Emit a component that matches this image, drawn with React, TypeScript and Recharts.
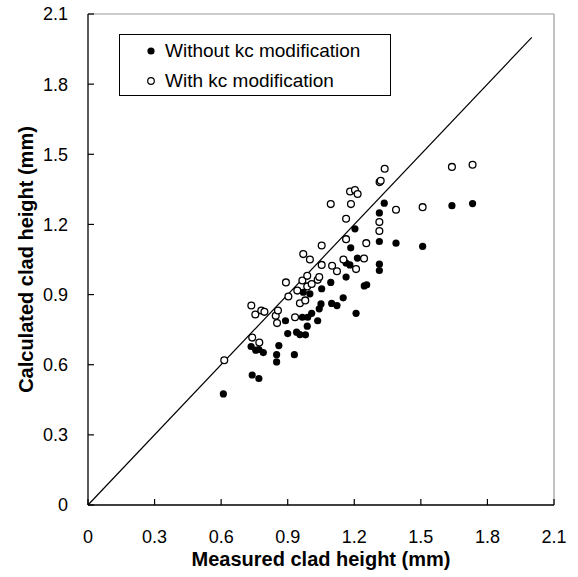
import React from "react";
import {
  ScatterChart,
  Scatter,
  XAxis,
  YAxis,
  ReferenceLine,
  Legend
} from "recharts";

document.body.style.margin = "0";

const FONT = "'Liberation Sans', Arial, sans-serif";

const axisTicks = [0, 0.3, 0.6, 0.9, 1.2, 1.5, 1.8, 2.1];

// measured (x) and calculated (y) clad heights, mm
const withoutMeasured = [
  0.61, 0.74, 0.77, 0.85, 0.85, 0.93, 0.86, 0.735, 0.756, 0.77, 0.79, 0.89,
  0.9, 0.94, 0.955, 0.98, 0.966, 0.99, 0.988, 1.008, 1.035, 1.042, 1.05, 1.098,
  1.122, 1.15, 1.208, 1.053, 1.094, 1.163, 0.97, 1.0, 1.245, 1.256, 1.163,
  1.18, 1.313, 1.313, 1.214, 1.184, 1.313, 1.388, 1.508, 1.203, 1.313, 1.335,
  1.64, 1.733
];
const withoutCalculated = [
  0.475, 0.556, 0.541, 0.612, 0.643, 0.643, 0.682, 0.678, 0.662, 0.665, 0.652,
  0.788, 0.733, 0.739, 0.729, 0.728, 0.803, 0.803, 0.765, 0.82, 0.788, 0.839,
  0.86, 0.862, 0.853, 0.886, 0.82, 0.925, 0.952, 0.975, 0.91, 0.903, 0.937,
  0.942, 1.035, 1.027, 1.03, 1.003, 1.056, 1.1, 1.127, 1.12, 1.106, 1.181,
  1.249, 1.291, 1.28, 1.289
];

const withMeasured = [
  0.614, 0.736, 0.754, 0.781, 0.795, 0.74, 0.772, 0.846, 0.856, 0.852, 0.892,
  0.903, 0.933, 0.943, 0.955, 0.979, 0.966, 0.988, 0.988, 1.008, 1.035, 1.042,
  1.053, 1.1, 1.122, 1.208, 1.337, 1.314, 1.319, 1.181, 1.203, 1.215, 1.094,
  1.185, 1.163, 1.388, 1.508, 1.64, 1.733, 1.313, 1.313, 1.163, 1.254, 1.053,
  0.97, 1.0, 1.151, 1.244
];
const withCalculated = [
  0.619, 0.853, 0.815, 0.832, 0.826, 0.716, 0.695, 0.809, 0.832, 0.778, 0.952,
  0.892, 0.803, 0.917, 0.863, 0.875, 0.96, 0.98, 0.935, 0.945, 0.963, 0.975,
  1.027, 1.023, 1.0, 1.009, 1.438, 1.381, 1.387, 1.341, 1.347, 1.33, 1.287,
  1.287, 1.224, 1.263, 1.274, 1.446, 1.455, 1.21, 1.172, 1.137, 1.12, 1.11,
  1.073, 1.05, 1.05, 1.054
];

const seriesNames = ["Without kc modification", "With kc modification"];

const toPoints = (xs: number[], ys: number[]) =>
  xs.map((x, i) => ({ x, y: ys[i] }));

const withoutData = toPoints(withoutMeasured, withoutCalculated);
const withData = toPoints(withMeasured, withCalculated);

const fmt = (v: number) => (v === 0 ? "0" : v.toFixed(1));

const FilledDot = (props: any) => (
  <circle cx={props.cx} cy={props.cy} r={3.6} fill="#000" />
);
const OpenDot = (props: any) => (
  <circle cx={props.cx} cy={props.cy} r={3.4} fill="#fff" stroke="#000" strokeWidth={1.3} />
);

const LegendBox = () => (
  <div
    style={{
      border: "1px solid #000",
      boxSizing: "border-box",
      width: 272,
      height: 62,
      background: "#fff",
      fontFamily: FONT,
      fontSize: 19,
      color: "#000",
      position: "relative"
    }}
  >
    {seriesNames.map((name, i) => (
      <div
        key={name}
        style={{
          position: "absolute",
          left: 24,
          top: 3 + i * 30,
          height: 26,
          display: "flex",
          alignItems: "center",
          whiteSpace: "nowrap"
        }}
      >
        <svg width={14} height={14} style={{ marginRight: 7 }}>
          {i === 0 ? (
            <circle cx={7} cy={7} r={3.6} fill="#000" />
          ) : (
            <circle cx={7} cy={7} r={3.3} fill="#fff" stroke="#000" strokeWidth={1.2} />
          )}
        </svg>
        <span>{name}</span>
      </div>
    ))}
  </div>
);

export default function App() {
  return (
    <ScatterChart
      width={578}
      height={577}
      margin={{ top: 14, right: 24, bottom: 0, left: 0 }}
      style={{ background: "#fff" }}
    >
      <XAxis
        type="number"
        dataKey="x"
        domain={[0, 2.1]}
        ticks={axisTicks}
        interval={0}
        tickFormatter={fmt}
        height={72}
        tickSize={-6}
        tickMargin={31}
        axisLine={{ stroke: "#000", strokeWidth: 1.3 }}
        tickLine={{ stroke: "#000", strokeWidth: 1.2 }}
        tick={{ fill: "#000", fontSize: 18, fontFamily: FONT }}
        label={{
          value: "Measured clad height (mm)",
          position: "insideBottom",
          offset: 11,
          style: { fill: "#000", fontSize: 20, fontWeight: "bold", fontFamily: FONT }
        }}
      />
      <YAxis
        type="number"
        dataKey="y"
        domain={[0, 2.1]}
        ticks={axisTicks}
        interval={0}
        tickFormatter={fmt}
        width={88}
        tickSize={-6}
        tickMargin={26}
        axisLine={{ stroke: "#000", strokeWidth: 1.3 }}
        tickLine={{ stroke: "#000", strokeWidth: 1.2 }}
        tick={{ fill: "#000", fontSize: 18, fontFamily: FONT }}
        label={{
          value: "Calculated clad height (mm)",
          angle: -90,
          position: "insideLeft",
          offset: 26,
          style: {
            fill: "#000",
            fontSize: 20,
            fontWeight: "bold",
            fontFamily: FONT,
            textAnchor: "middle"
          }
        }}
      />
      <ReferenceLine y={2.1} stroke="#999" strokeWidth={1.2} />
      <ReferenceLine x={2.1} stroke="#999" strokeWidth={1.2} />
      <ReferenceLine
        segment={[
          { x: 0, y: 0 },
          { x: 2, y: 2 }
        ]}
        stroke="#000"
        strokeWidth={1.2}
      />
      <Legend
        layout="vertical"
        align="center"
        verticalAlign="middle"
        content={() => <LegendBox />}
        wrapperStyle={{ left: 119, top: 34, width: 272, height: 62 }}
      />
      <Scatter
        name={seriesNames[0]}
        data={withoutData}
        shape={FilledDot}
        isAnimationActive={false}
      />
      <Scatter
        name={seriesNames[1]}
        data={withData}
        shape={OpenDot}
        isAnimationActive={false}
      />
    </ScatterChart>
  );
}
